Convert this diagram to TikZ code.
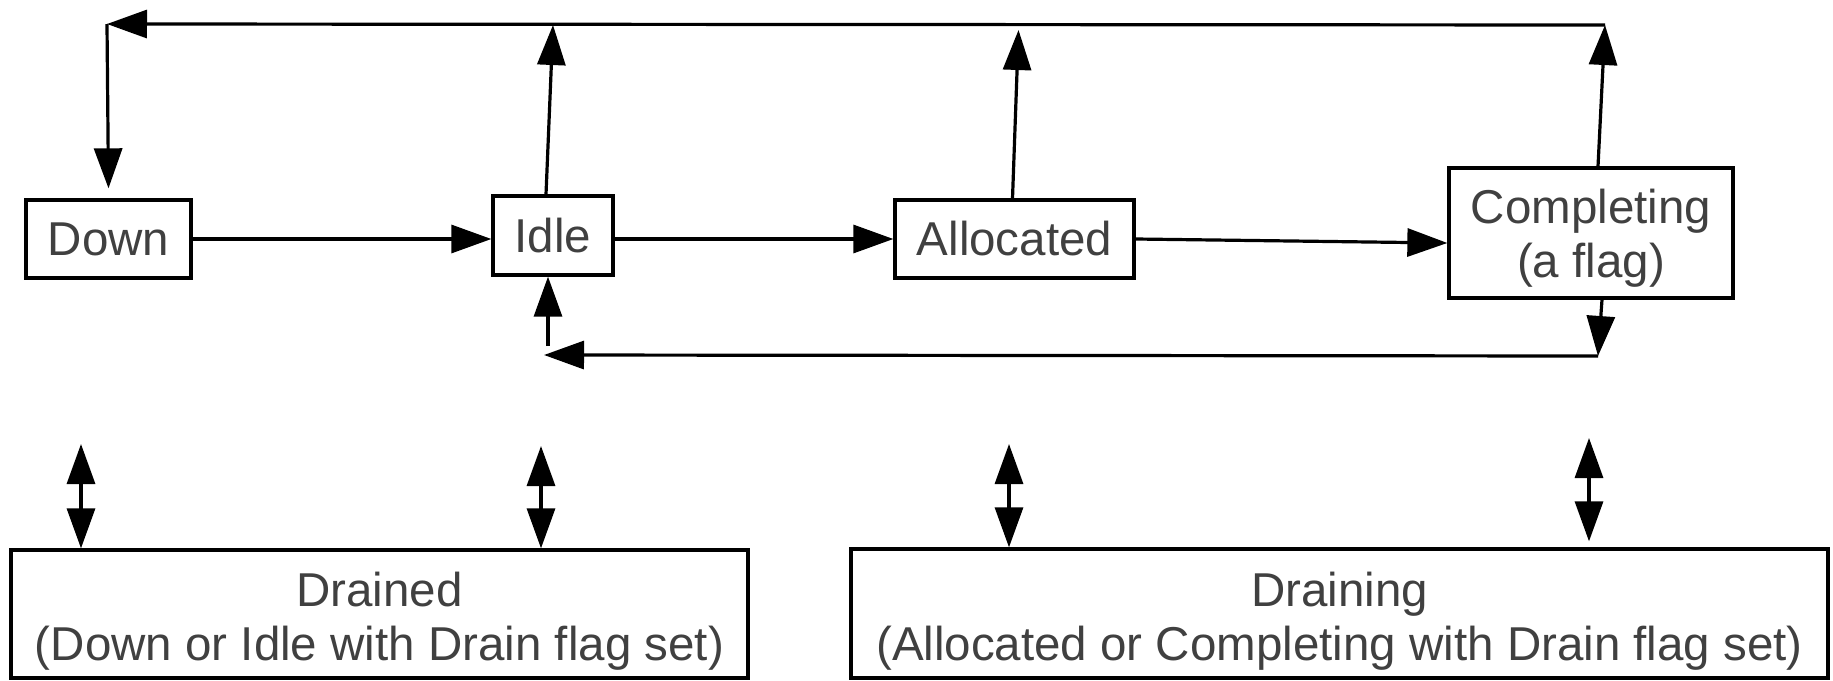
\documentclass[tikz,border=0pt]{standalone}
\usepackage{fontspec}
\setmainfont{Liberation Sans}
\usetikzlibrary{arrows.meta,calc}
\definecolor{txt}{HTML}{404040}
\begin{document}
\begin{tikzpicture}[x=1pt,y=-1pt,
  state/.style={draw=black,line width=3.3pt,text=txt,inner sep=0pt,align=center,
    font=\fontsize{47.5}{54}\selectfont},
  twoline/.style={text height=#1,text depth=0pt},
  arr/.style={line width=3.2pt,-{Triangle[length=40pt,width=28pt]}},
  dbl/.style={line width=3.2pt,{Triangle[length=40pt,width=28pt]}-{Triangle[length=40pt,width=28pt]}}]
\useasboundingbox (0,0) rectangle (1833,680);

% states
\node[state,minimum width=165pt,minimum height=78pt] (down)  at (108.5,239) {Down};
\node[state,minimum width=120pt,minimum height=79pt] (idle)  at (553,235.5) {Idle};
\node[state,minimum width=239pt,minimum height=78pt] (alloc) at (1014.5,239) {Allocated};
\node[state,twoline=88pt,minimum width=284pt,minimum height=130pt] (compl) at (1591,233)
  {Completing\\(a flag)};
\node[state,twoline=92pt,minimum width=737pt,minimum height=128pt] (drained)  at (379.5,614)
  {Drained\\(Down or Idle with Drain flag set)};
\node[state,twoline=93pt,minimum width=977pt,minimum height=129pt] (draining) at (1339.5,613.5)
  {Draining\\(Allocated or Completing with Drain flag set)};

% corners of the return loops
\coordinate (tr) at (1605,25);
\coordinate (tl) at (107,24);
\coordinate (br) at (1598,356);
\coordinate (bl) at (544,355);

% forward transitions
\draw[arr] (down.east) -- (down.east -| idle.west);
\draw[arr] (idle.east |- alloc.west) -- (alloc.west);
\draw[arr] (alloc.east) -- ([yshift=-4pt]alloc.east -| compl.west);

% top loop back to Down
\draw[arr] ([xshift=-7pt]idle.north) -- (idle.north |- tr);
\draw[arr] ([xshift=-2pt]alloc.north) -- ($(alloc.north |- tr)+(4,5)$);
\draw[arr] ([xshift=7pt]compl.north) -- (tr);
\draw[arr] (tr) -- (tl);
\draw[arr] (tl) -- ([yshift=10pt]down.north);

% bottom loop back to Idle
\draw[arr] ([xshift=11pt]compl.south) -- (br);
\draw[arr] (br) -- (bl);
\draw[arr] ($(bl)+(4,-9)$) -- ([xshift=-5pt]idle.south);

% drain links
\coordinate (u1) at (81,444);
\coordinate (u2) at (541,446);
\coordinate (u3) at (1009,444);
\coordinate (u4) at (1589,438);
\draw[dbl] (u1) -- (u1 |- drained.north);
\draw[dbl] (u2) -- (u2 |- drained.north);
\draw[dbl] (u3) -- (u3 |- draining.north);
\draw[dbl] (u4) -- ($(u4 |- draining.north)+(0,-6)$);
\end{tikzpicture}
\end{document}
